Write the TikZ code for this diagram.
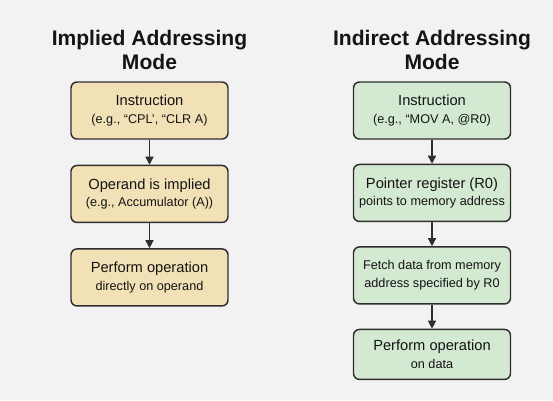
\documentclass[tikz,border=0pt]{standalone}
\usepackage{fontspec}
\setmainfont{Liberation Sans}
\usetikzlibrary{arrows.meta,positioning}
\definecolor{modeTan}{HTML}{F2E0B6}
\definecolor{modeGreen}{HTML}{D4E9D1}
\definecolor{modeEdge}{HTML}{2E2E2E}
\definecolor{modeBack}{HTML}{F2F2F2}
\newcommand{\headline}[1]{{\fontsize{11}{13}\selectfont #1}}
\tikzset{
  stepbox/.style={
    rectangle, rounded corners=4.5pt,
    draw=modeEdge, line width=1.1pt, fill=#1,
    minimum width=117.75pt, minimum height=42.75pt,
    align=center, inner sep=2pt,
    font=\fontsize{9.5}{13.2}\selectfont,
    text=black!92
  },
  titletext/.style={
    align=center, font=\fontsize{15.8}{17.5}\selectfont\bfseries,
    text=black!92
  },
  myarr/.style={-{Triangle[length=6pt,width=6pt]}, line width=1pt, draw=modeEdge},
}
\begin{document}
\begin{tikzpicture}[x=0.75pt, y=-0.75pt, node distance=18pt]

  % Background
  \fill[modeBack] (0,0) rectangle (553,400);

  % Titles
  \node[titletext] (ltitle) at (149.5,50) {Implied Addressing\\Mode};
  \node[titletext] (rtitle) at (432,50) {Indirect Addressing\\Mode};

  % Left column — implied
  \node[stepbox=modeTan] (li) at (149.5,110.5)
    {\headline{Instruction}\\(e.g., “CPL’, “CLR A)};
  \node[stepbox=modeTan, below=18.75pt of li] (lo)
    {\headline{Operand is implied}\\(e.g., Accumulator (A))};
  \node[stepbox=modeTan, below=18.75pt of lo] (lp)
    {\headline{Perform operation}\\directly on operand};

  % Right column — indirect
  \node[stepbox=modeGreen] (ri) at (432,110.5)
    {\headline{Instruction}\\(e.g., “MOV A, @R0)};
  \node[stepbox=modeGreen, below=of ri] (rr)
    {\headline{Pointer register (R0)}\\points to memory address};
  \node[stepbox=modeGreen, below=of rr] (rf)
    {Fetch data from memory\\address specified by R0};
  \node[stepbox=modeGreen, minimum height=37.5pt, below=of rf] (rp)
    {\headline{Perform operation}\\on data};

  % Arrows
  \draw[myarr] (li) -- (lo);
  \draw[myarr] (lo) -- (lp);
  \draw[myarr] (ri) -- (rr);
  \draw[myarr] (rr) -- (rf);
  \draw[myarr] (rf) -- (rp);
\end{tikzpicture}
\end{document}
